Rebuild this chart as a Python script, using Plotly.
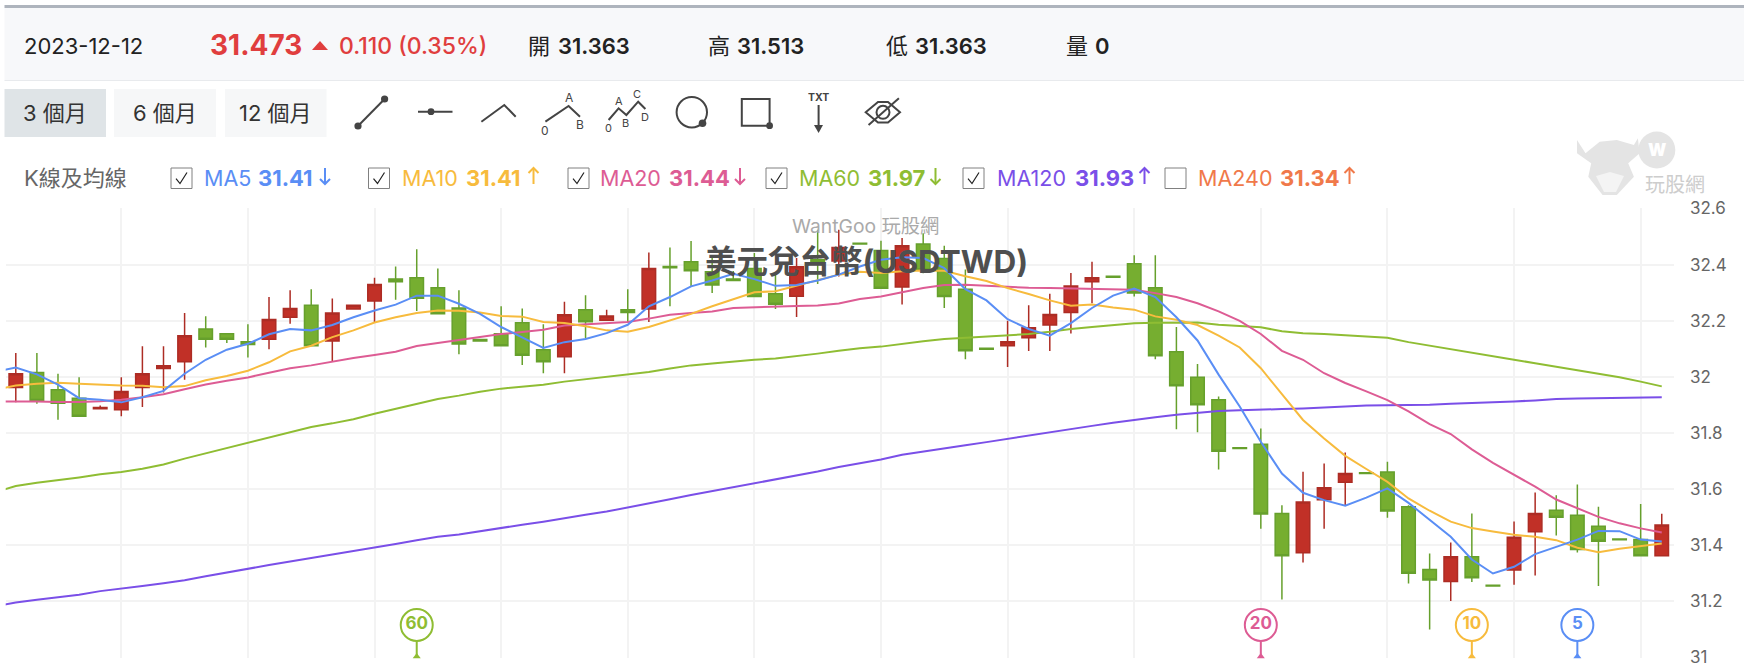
import plotly.graph_objects as go

# ---- Daily USD/TWD candles (oldest first) ----
sessions = list(range(79))
opens = [31.964, 32.018, 31.956, 31.926, 31.888, 31.885, 31.964, 32.032, 32.056, 32.173,
         32.156, 32.127, 32.136, 32.215, 32.258, 32.130, 32.244, 32.273, 32.351, 32.356,
         32.320, 32.248, 32.135, 32.156, 32.195, 32.099, 32.074, 32.242, 32.204, 32.242,
         32.244, 32.396, 32.413, 32.377, 32.351, 32.389, 32.299, 32.290, 32.420, 32.416,
         32.479, 32.453, 32.323, 32.476, 32.425, 32.315, 32.104, 32.113, 32.142, 32.187,
         32.232, 32.342, 32.361, 32.406, 32.320, 32.092, 32.001, 31.920, 31.749, 31.761,
         31.514, 31.374, 31.563, 31.626, 31.660, 31.662, 31.538, 31.314, 31.271, 31.360,
         31.258, 31.312, 31.449, 31.526, 31.508, 31.469, 31.423, 31.421, 31.363]
highs = [32.087, 32.087, 32.013, 32.001, 31.900, 32.001, 32.111, 32.111, 32.230, 32.218,
         32.156, 32.190, 32.287, 32.311, 32.315, 32.282, 32.258, 32.356, 32.396, 32.458,
         32.389, 32.311, 32.135, 32.254, 32.246, 32.190, 32.270, 32.293, 32.242, 32.315,
         32.446, 32.464, 32.487, 32.430, 32.380, 32.444, 32.366, 32.426, 32.527, 32.527,
         32.479, 32.488, 32.498, 32.515, 32.470, 32.385, 32.104, 32.202, 32.258, 32.299,
         32.373, 32.413, 32.361, 32.436, 32.436, 32.180, 32.048, 31.932, 31.749, 31.818,
         31.544, 31.663, 31.693, 31.732, 31.660, 31.699, 31.544, 31.371, 31.411, 31.514,
         31.258, 31.486, 31.589, 31.579, 31.618, 31.538, 31.423, 31.548, 31.513]
lows = [31.911, 31.906, 31.849, 31.861, 31.888, 31.861, 31.894, 31.946, 31.992, 32.107,
        32.123, 32.071, 32.101, 32.192, 32.113, 32.057, 32.244, 32.198, 32.277, 32.237,
        32.227, 32.083, 32.130, 32.113, 32.044, 32.015, 32.015, 32.139, 32.204, 32.194,
        32.198, 32.254, 32.325, 32.301, 32.346, 32.287, 32.244, 32.216, 32.334, 32.360,
        32.476, 32.318, 32.260, 32.372, 32.248, 32.065, 32.101, 32.037, 32.094, 32.094,
        32.157, 32.265, 32.358, 32.289, 32.065, 31.815, 31.804, 31.671, 31.746, 31.460,
        31.207, 31.339, 31.460, 31.544, 31.657, 31.499, 31.264, 31.100, 31.202, 31.270,
        31.255, 31.260, 31.293, 31.436, 31.375, 31.255, 31.420, 31.363, 31.363]
closes = [32.013, 31.918, 31.908, 31.861, 31.893, 31.950, 32.013, 32.042, 32.149, 32.136,
          32.136, 32.118, 32.207, 32.246, 32.113, 32.230, 32.258, 32.332, 32.342, 32.283,
          32.227, 32.119, 32.130, 32.113, 32.079, 32.056, 32.224, 32.199, 32.219, 32.232,
          32.389, 32.392, 32.381, 32.330, 32.346, 32.289, 32.261, 32.395, 32.410, 32.464,
          32.476, 32.318, 32.470, 32.384, 32.289, 32.095, 32.101, 32.127, 32.177, 32.225,
          32.326, 32.356, 32.358, 32.301, 32.077, 31.970, 31.902, 31.736, 31.746, 31.512,
          31.363, 31.555, 31.606, 31.657, 31.657, 31.523, 31.301, 31.277, 31.360, 31.285,
          31.255, 31.429, 31.514, 31.501, 31.386, 31.415, 31.420, 31.363, 31.473]

# ---- Moving averages; the first value belongs to the session before the window ----
ma_sessions = [-1] + sessions
ma5 = [32.020, 32.035, 32.011, 31.974, 31.926, 31.920, 31.911, 31.929, 31.952, 32.013,
       32.063, 32.099, 32.120, 32.154, 32.173, 32.168, 32.187, 32.215, 32.239, 32.260,
       32.292, 32.292, 32.263, 32.227, 32.180, 32.143, 32.105, 32.126, 32.137, 32.158,
       32.188, 32.254, 32.287, 32.325, 32.346, 32.370, 32.351, 32.327, 32.330, 32.346,
       32.367, 32.396, 32.420, 32.429, 32.426, 32.390, 32.315, 32.275, 32.208, 32.173,
       32.149, 32.194, 32.248, 32.292, 32.317, 32.287, 32.215, 32.132, 32.010, 31.896,
       31.770, 31.657, 31.588, 31.562, 31.542, 31.571, 31.604, 31.552, 31.493, 31.431,
       31.350, 31.300, 31.324, 31.369, 31.395, 31.421, 31.452, 31.451, 31.421, 31.414]
ma10 = [31.956, 31.971, 31.977, 31.981, 31.977, 31.973, 31.971, 31.970, 31.965, 31.969,
        31.990, 32.005, 32.024, 32.054, 32.093, 32.113, 32.144, 32.168, 32.196, 32.215,
        32.230, 32.239, 32.238, 32.232, 32.219, 32.217, 32.198, 32.194, 32.183, 32.168,
        32.163, 32.180, 32.204, 32.227, 32.254, 32.280, 32.304, 32.308, 32.327, 32.346,
        32.367, 32.377, 32.373, 32.379, 32.382, 32.381, 32.361, 32.344, 32.319, 32.298,
        32.275, 32.256, 32.260, 32.250, 32.242, 32.218, 32.206, 32.187, 32.149, 32.107,
        32.033, 31.940, 31.848, 31.782, 31.720, 31.673, 31.627, 31.568, 31.524, 31.485,
        31.462, 31.450, 31.438, 31.431, 31.419, 31.392, 31.376, 31.388, 31.398, 31.407]
ma20 = [31.914, 31.915, 31.914, 31.912, 31.912, 31.915, 31.920, 31.929, 31.940, 31.958,
        31.975, 31.988, 32.000, 32.017, 32.033, 32.043, 32.057, 32.069, 32.080, 32.092,
        32.112, 32.123, 32.133, 32.143, 32.155, 32.162, 32.170, 32.185, 32.189, 32.194,
        32.198, 32.210, 32.224, 32.230, 32.235, 32.248, 32.251, 32.252, 32.255, 32.257,
        32.264, 32.280, 32.289, 32.304, 32.319, 32.330, 32.331, 32.327, 32.323, 32.320,
        32.319, 32.317, 32.315, 32.314, 32.313, 32.301, 32.287, 32.265, 32.236, 32.202,
        32.155, 32.095, 32.063, 32.015, 31.980, 31.950, 31.919, 31.879, 31.833, 31.798,
        31.743, 31.695, 31.654, 31.610, 31.564, 31.532, 31.502, 31.479, 31.461, 31.446]
ma60 = [31.590, 31.612, 31.624, 31.633, 31.643, 31.654, 31.662, 31.674, 31.689, 31.710,
        31.729, 31.748, 31.767, 31.787, 31.806, 31.823, 31.836, 31.851, 31.870, 31.888,
        31.907, 31.923, 31.935, 31.949, 31.960, 31.967, 31.974, 31.985, 31.994, 32.002,
        32.012, 32.019, 32.032, 32.043, 32.050, 32.057, 32.063, 32.068, 32.076, 32.085,
        32.095, 32.104, 32.110, 32.120, 32.129, 32.137, 32.142, 32.145, 32.150, 32.155,
        32.163, 32.173, 32.180, 32.187, 32.193, 32.195, 32.196, 32.196, 32.188, 32.183,
        32.179, 32.165, 32.158, 32.155, 32.151, 32.148, 32.142, 32.126, 32.113, 32.101,
        32.088, 32.074, 32.063, 32.051, 32.039, 32.027, 32.015, 32.001, 31.985, 31.968]
ma120 = [31.183, 31.196, 31.206, 31.215, 31.224, 31.237, 31.245, 31.255, 31.265, 31.276,
         31.290, 31.304, 31.317, 31.330, 31.343, 31.355, 31.367, 31.379, 31.392, 31.405,
         31.419, 31.431, 31.439, 31.451, 31.464, 31.474, 31.485, 31.498, 31.510, 31.521,
         31.535, 31.550, 31.565, 31.580, 31.594, 31.608, 31.621, 31.635, 31.649, 31.664,
         31.680, 31.694, 31.707, 31.724, 31.736, 31.748, 31.758, 31.769, 31.781, 31.792,
         31.804, 31.815, 31.827, 31.838, 31.849, 31.858, 31.867, 31.874, 31.880, 31.883,
         31.886, 31.887, 31.889, 31.893, 31.896, 31.900, 31.901, 31.901, 31.902, 31.906,
         31.908, 31.912, 31.914, 31.918, 31.923, 31.925, 31.926, 31.926, 31.926, 31.929]

# ---- Labels ----
quote_date = "2023-12-12"
quote_price = "31.473"
quote_change = "0.110 (0.35%)"
quote_fields = [("開", "31.363"), ("高", "31.513"), ("低", "31.363"), ("量", "0")]
range_buttons = ["3 個月", "6 個月", "12 個月"]
legend_names = ["MA5", "MA10", "MA20", "MA60", "MA120", "MA240"]
legend_values = ["31.41", "31.41", "31.44", "31.97", "31.93", "31.34"]
legend_rising = [False, True, False, False, True, True]
legend_checked = [True, True, True, True, True, False]
y_ticks = [31, 31.2, 31.4, 31.6, 31.8, 32, 32.2, 32.4]
y_tick_text = ["31", "31.2", "31.4", "31.6", "31.8", "32", "32.2", "32.4", "32.6"]
window_pins = [60, 20, 10, 5]

BLUE, AMBER, PINK, LEAF, VIOLET, CORAL = "#5a8ef5", "#f7bb3d", "#dd5c94", "#8fbd33", "#7a4fe8", "#f0794a"
LEGEND_COLORS = [BLUE, AMBER, PINK, LEAF, VIOLET, CORAL]
PIN_COLORS = {60: LEAF, 20: PINK, 10: AMBER, 5: BLUE}
FONT = 'Inter, "Noto Sans CJK TC", sans-serif'
W, H = 1744, 670
Y_TOP = 32.606
ICON = "#444444"


def px(x):
    return x / W


def py(y):
    return 1 - y / H


def poly(points, closed=False):
    body = " L".join(f"{px(x):.5f},{py(y):.5f}" for x, y in points)
    return "M" + body + (" Z" if closed else "")


shapes = []
annotations = []


def text(x, y, s, size=20, color="#222222", weight=400, anchor="left"):
    annotations.append(dict(x=px(x), y=py(y), xref="paper", yref="paper", text=s, showarrow=False,
                            xanchor=anchor, yanchor="middle", borderpad=0,
                            font=dict(family=FONT, size=size, color=color, weight=weight)))


def stroke(points, color=ICON, width=2, closed=False):
    shapes.append(dict(type="path", path=poly(points, closed), xref="paper", yref="paper",
                       line=dict(color=color, width=width), layer="above"))


def fill(points, color, layer="below"):
    shapes.append(dict(type="path", path=poly(points, True), xref="paper", yref="paper",
                       fillcolor=color, line=dict(width=0), layer=layer))


def box(x0, y0, x1, y1, fillcolor=None, line=None, width=0, layer="below"):
    shapes.append(dict(type="rect", x0=px(x0), x1=px(x1), y0=py(y0), y1=py(y1), xref="paper", yref="paper",
                       fillcolor=fillcolor or "rgba(0,0,0,0)", line=dict(color=line or "rgba(0,0,0,0)", width=width),
                       layer=layer))


def disc(cx, cy, r, fillcolor=None, line=None, width=0, layer="above"):
    shapes.append(dict(type="circle", x0=px(cx - r), x1=px(cx + r), y0=py(cy - r), y1=py(cy + r),
                       xref="paper", yref="paper", fillcolor=fillcolor or "rgba(0,0,0,0)",
                       line=dict(color=line or "rgba(0,0,0,0)", width=width), layer=layer))


# Quote strip
box(4.5, 5, W, 8, fillcolor="#aeb4bd")
box(4.5, 8, W, 80, fillcolor="#f7f8fa")
box(4.5, 80, W, 81, fillcolor="#e8eaed")
text(23, 46, quote_date, size=22, color="#222222")
text(209, 45, quote_price, size=28, color="#e03e3e", weight=700)
fill([(312, 50), (320, 41), (328, 50)], "#e03e3e")
text(338, 46, quote_change, size=23, color="#e03e3e", weight=500)
field_x = [(527, 557), (707, 736), (885, 914), (1065, 1094)]
for (name, val), (xa, xb) in zip(quote_fields, field_x):
    text(xa, 46, name, size=22, color="#222222")
    text(xb, 46, val, size=22, color="#222222", weight=600)

# Range buttons
button_edges = [(4.5, 106), (114, 216), (225, 326.5)]
for label, (x0, x1), bg in zip(range_buttons, button_edges, ["#dfe4e7", "#f6f7f8", "#f6f7f8"]):
    box(x0, 89, x1, 137, fillcolor=bg)
    text((x0 + x1) / 2, 113, label, size=22, color="#333333", anchor="center")

# Drawing tool icons
stroke([(358, 126), (384.6, 99)])
disc(358, 126, 3.6, fillcolor=ICON)
disc(384.6, 99, 3.6, fillcolor=ICON)
stroke([(418, 111.7), (452.5, 111.7)])
disc(431, 111.7, 3.4, fillcolor=ICON)
stroke([(481.4, 121.7), (504.3, 105), (515.7, 116.7)])
stroke([(545.4, 121.7), (568.6, 106), (580, 116.7)])
text(568.6, 97, "A", size=12, color=ICON, anchor="center")
text(545.4, 130, "0", size=12, color=ICON, anchor="center")
text(579.5, 125, "B", size=12, color=ICON, anchor="center")
stroke([(608.6, 120), (618.6, 108.3), (626.4, 115), (638.2, 101.7), (645.4, 109)])
text(618.6, 101, "A", size=11, color=ICON, anchor="center")
text(637, 94, "C", size=11, color=ICON, anchor="center")
text(644.8, 117, "D", size=11, color=ICON, anchor="center")
text(625.7, 123, "B", size=11, color=ICON, anchor="center")
text(608, 128, "0", size=11, color=ICON, anchor="center")
disc(691.8, 112.3, 15.2, line=ICON, width=2)
disc(702.5, 123.3, 3.8, fillcolor=ICON)
box(741.8, 99, 769.6, 125.7, line=ICON, width=2, layer="above")
disc(769.6, 125.7, 3.4, fillcolor=ICON)
text(818.6, 97, "TXT", size=10.5, color=ICON, weight=700, anchor="center")
stroke([(818.6, 105), (818.6, 127)])
fill([(814, 125), (823, 125), (818.6, 133)], ICON)
stroke([(865.7, 112.3), (878, 102), (888, 102), (900, 112.3), (888, 122.5), (878, 122.5)], closed=True)
disc(883, 112.3, 6.5, line=ICON, width=2)
stroke([(868.6, 125), (898.9, 98.3)])

# Indicator row
text(23, 178, "K線及均線", size=22, color="#666666")
check_x = [171, 368.5, 568, 766, 963, 1165]
name_x = [202.6, 400.7, 598.7, 798, 996, 1196.6]
value_x = [257, 465, 667.6, 867, 1074, 1278.7]
arrow_x = [325, 533.5, 740, 935.5, 1144.5, 1349.5]
for i, name in enumerate(legend_names):
    c = LEGEND_COLORS[i]
    box(check_x[i], 168, check_x[i] + 21, 188.5, line="#808080", width=1, layer="above")
    if legend_checked[i]:
        cx = check_x[i]
        stroke([(cx + 5, 178.5), (cx + 9, 183.5), (cx + 16, 172.5)], color="#222222", width=1.2)
    text(name_x[i], 178, name, size=21.5, color=c)
    text(value_x[i], 178, legend_values[i], size=22, color=c, weight=700)
    ax = arrow_x[i]
    stroke([(ax, 168), (ax, 184)], color=c, width=2)
    if legend_rising[i]:
        stroke([(ax - 5, 173), (ax, 168), (ax + 5, 173)], color=c, width=2)
    else:
        stroke([(ax - 5, 179), (ax, 184), (ax + 5, 179)], color=c, width=2)

# Site emblem in the top right corner
fill([(1577, 140), (1585.5, 153.3), (1599.7, 141.7), (1616.8, 140), (1633.9, 145), (1637.9, 138.3),
      (1639.6, 153.3), (1628.2, 163.3), (1633.9, 176.7), (1616.8, 195), (1602.6, 195),
      (1588.3, 176.7), (1591.2, 163.3), (1577, 153.3)], "#e4e4e4")
fill([(1596, 176), (1610, 172), (1624, 176), (1616, 192), (1604, 192)], "#f4f4f4")
disc(1656.8, 150, 18.5, fillcolor="#e4e4e4", layer="below")
text(1656.8, 150, "W", size=17, color="#ffffff", weight=900, anchor="center")
text(1675, 185, "玩股網", size=20, color="#cdcdcd", anchor="center")

# Watermark and chart name sit above the series
text(865, 226, "WantGoo 玩股網", size=19.3, color="#aaaaaa", anchor="center")
text(866, 261, "美元兌台幣(USDTWD)", size=31.5, color="#4f4f4f", weight=700, anchor="center")

fig = go.Figure()
fig.add_trace(go.Candlestick(
    x=sessions, open=opens, high=highs, low=lows, close=closes, whiskerwidth=0,
    increasing=dict(fillcolor="#c13027", line=dict(color="#ad2c24", width=1.5)),
    decreasing=dict(fillcolor="#76ae30", line=dict(color="#66a02c", width=1.5)),
    hoverinfo="skip", showlegend=False))

for series, color in [(ma120, VIOLET), (ma60, LEAF), (ma20, PINK), (ma10, AMBER), (ma5, BLUE)]:
    fig.add_trace(go.Scatter(x=ma_sessions, y=series, mode="lines", line=dict(color=color, width=2),
                             hoverinfo="skip", showlegend=False))

# Pins that mark where each moving-average window begins
PIN_HEAD = 31.116
for window in window_pins:
    color = PIN_COLORS[window]
    start = sessions[-1] - window + 1
    fig.add_trace(go.Scatter(x=[start, start], y=[31, PIN_HEAD - 0.058], mode="lines",
                             line=dict(color=color, width=2), hoverinfo="skip", showlegend=False))
    fig.add_trace(go.Scatter(x=[start], y=[31.004], mode="markers",
                             marker=dict(symbol="triangle-up", size=7, color=color),
                             hoverinfo="skip", showlegend=False, cliponaxis=False))
    fig.add_trace(go.Scatter(x=[start], y=[PIN_HEAD], mode="markers+text", text=[str(window)],
                             textposition="middle center",
                             textfont=dict(family=FONT, size=17, color=color, weight=700),
                             marker=dict(symbol="circle", size=32, color="#ffffff",
                                         line=dict(color=color, width=2)),
                             hoverinfo="skip", showlegend=False))

fig.update_layout(
    width=W, height=H, autosize=False, margin=dict(l=0, r=0, t=0, b=0, autoexpand=False),
    paper_bgcolor="#ffffff", plot_bgcolor="#ffffff", boxgap=0.36, boxgroupgap=0, hovermode=False,
    shapes=shapes, annotations=annotations,
    font=dict(family=FONT),
    xaxis=dict(domain=[5.7 / W, 1674 / W], range=[-0.478, 78.58], rangeslider=dict(visible=False),
               automargin=False, tickmode="array", tickvals=sessions[5::6], showticklabels=False, ticks="",
               showgrid=True, gridcolor="#f3f3f3", gridwidth=2, zeroline=False, showline=False),
    yaxis=dict(domain=[1 - 657.5 / H, 1 - 207.7 / H], range=[31, Y_TOP], side="right", automargin=False,
               tickmode="array", tickvals=y_ticks + [Y_TOP], ticktext=y_tick_text,
               ticks="", ticklabelstandoff=15,
               tickfont=dict(family=FONT, size=17, color="#666666"),
               showgrid=True, gridcolor="#f3f3f3", gridwidth=2, zeroline=False, showline=False),
)

fig.write_html("out.html", config={"displayModeBar": False})
